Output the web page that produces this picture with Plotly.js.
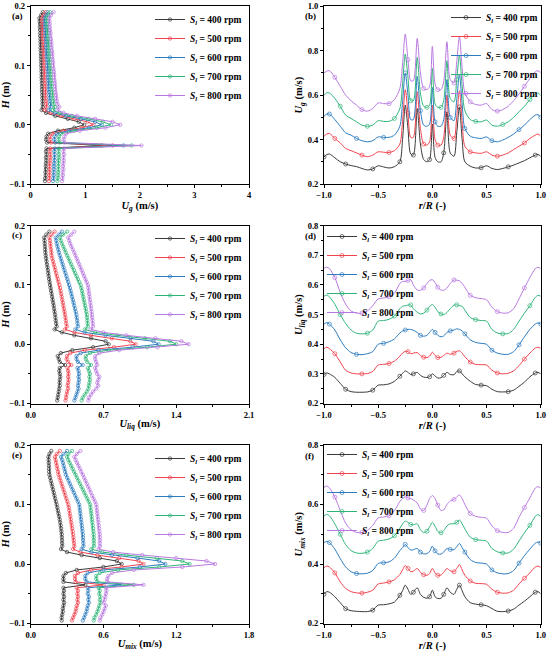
<!DOCTYPE html>
<html><head><meta charset="utf-8">
<script src="https://cdn.plot.ly/plotly-3.0.1.min.js"></script>
<style>html,body{margin:0;padding:0;background:#fff}#chart{width:550px;height:653px}</style>
</head><body><div id="chart"></div>
<script>
// ---------- shared ----------
const SPEEDS = ['400', '500', '600', '700', '800'];
const COLORS = ['#3a3a3a', '#f0434f', '#2c7bbf', '#2fb478', '#b878e0'];

// height above inlet (m), top to bottom
const H = [0.19,0.185,0.18,0.175,0.17,0.165,0.16,0.155,0.15,0.145,0.14,0.135,0.13,0.125,0.12,0.115,0.11,0.105,0.1,0.095,0.09,0.085,0.08,0.075,0.07,0.065,0.06,0.055,0.05,0.045,0.04,0.035,0.03,0.025,0.02,0.015,0.01,0.005,0,-0.005,-0.01,-0.015,-0.02,-0.025,-0.03,-0.035,-0.04,-0.045,-0.05,-0.055,-0.06,-0.065,-0.07,-0.075,-0.08,-0.085,-0.09,-0.095];

// radial position r/R
const RR = [-1,-0.975,-0.95,-0.9,-0.85,-0.8,-0.75,-0.7,-0.65,-0.6,-0.55,-0.5,-0.45,-0.4,-0.35,
 -0.3,-0.275,-0.25,-0.225,-0.2,-0.175,-0.14,-0.11,-0.08,-0.05,-0.025,0,0.025,0.05,0.08,0.105,0.135,0.165,0.2,0.225,0.25,0.275,0.3,
 0.35,0.4,0.45,0.5,0.55,0.6,0.65,0.7,0.75,0.8,0.85,0.9,0.95,0.975,1];

// ---------- (a) U_g vs H ----------
const UG_400 = [0.22,0.19,0.16,
 0.165,0.17,0.168,0.172,0.175,0.173,0.178,0.18,0.182,0.18,0.185,0.188,0.187,0.19,0.193,0.192,0.196,0.198,0.2,0.199,0.203,0.205,0.207,0.206,0.21,0.212,0.214,0.216,0.218,0.222,
 0.2,0.28,0.45,0.68,0.88,0.98,0.8,0.5,0.32,0.29,0.28,0.3,
 1.3,
 0.29,0.28,0.29,0.28,0.285,0.28,0.275,0.28,0.27,0.275,0.265,0.26];
const UG_500 = [0.27,0.24,0.21,
 0.21,0.215,0.213,0.218,0.222,0.22,0.226,0.229,0.232,0.23,0.236,0.24,0.238,0.243,0.247,0.245,0.25,0.254,0.256,0.255,0.26,0.263,0.266,0.265,0.27,0.273,0.276,0.279,0.283,0.29,
 0.26,0.36,0.55,0.8,1.04,1.15,0.94,0.6,0.4,0.36,0.35,0.37,
 1.5,
 0.36,0.35,0.36,0.355,0.36,0.35,0.345,0.35,0.34,0.345,0.34,0.335];
const UG_600 = [0.31,0.28,0.25,
 0.255,0.26,0.258,0.265,0.27,0.268,0.276,0.28,0.284,0.282,0.29,0.295,0.293,0.3,0.305,0.303,0.31,0.315,0.318,0.316,0.323,0.327,0.331,0.33,0.337,0.341,0.345,0.35,0.356,0.368,
 0.33,0.44,0.65,0.92,1.18,1.3,1.07,0.7,0.48,0.44,0.43,0.45,
 1.7,
 0.44,0.43,0.44,0.435,0.44,0.43,0.425,0.43,0.42,0.425,0.415,0.41];
const UG_700 = [0.36,0.32,0.29,
 0.295,0.3,0.298,0.306,0.312,0.31,0.318,0.323,0.328,0.326,0.334,0.34,0.338,0.346,0.352,0.35,0.358,0.364,0.368,0.366,0.374,0.379,0.384,0.383,0.391,0.397,0.403,0.41,0.42,0.445,
 0.41,0.52,0.75,1.05,1.32,1.47,1.21,0.8,0.56,0.52,0.51,0.53,
 1.85,
 0.52,0.51,0.52,0.515,0.52,0.51,0.505,0.51,0.5,0.505,0.495,0.49];
const UG_800 = [0.42,0.37,0.34,
 0.345,0.35,0.348,0.356,0.363,0.361,0.37,0.376,0.382,0.38,0.389,0.396,0.394,0.403,0.41,0.408,0.417,0.424,0.429,0.427,0.436,0.442,0.448,0.447,0.456,0.463,0.47,0.478,0.49,0.525,
 0.49,0.6,0.85,1.18,1.5,1.64,1.37,0.9,0.65,0.62,0.6,0.62,
 2.03,
 0.61,0.6,0.61,0.6,0.605,0.6,0.59,0.6,0.585,0.59,0.58,0.575];

// ---------- (c) U_liq vs H ----------
const UL_400 = [0.18,0.15,0.13,
 0.133,0.135,0.137,0.139,0.141,0.144,0.148,0.152,0.156,0.161,0.165,0.169,0.173,0.177,0.182,0.186,0.191,0.196,0.201,0.206,0.211,0.216,0.221,0.225,0.229,0.234,0.238,0.241,0.245,0.25,
 0.23,0.3,0.42,0.58,0.72,0.75,0.6,0.4,0.29,0.26,0.27,0.28,
 0.33,
 0.28,0.275,0.28,0.285,0.28,0.278,0.28,0.275,0.27,0.265,0.26,0.255];
const UL_500 = [0.23,0.2,0.18,
 0.185,0.188,0.19,0.195,0.198,0.2,0.207,0.215,0.222,0.23,0.237,0.245,0.252,0.26,0.268,0.276,0.282,0.288,0.293,0.298,0.303,0.309,0.314,0.319,0.325,0.33,0.334,0.338,0.342,0.348,
 0.33,0.42,0.58,0.78,0.96,1.01,0.8,0.52,0.38,0.35,0.345,0.36,
 0.39,
 0.355,0.36,0.365,0.36,0.365,0.36,0.355,0.36,0.35,0.345,0.34,0.335];
const UL_600 = [0.3,0.27,0.24,
 0.245,0.25,0.257,0.264,0.272,0.28,0.289,0.298,0.307,0.316,0.325,0.334,0.343,0.352,0.361,0.37,0.377,0.384,0.391,0.398,0.405,0.412,0.419,0.426,0.433,0.44,0.443,0.447,0.45,0.455,
 0.43,0.52,0.72,0.96,1.18,1.23,0.98,0.65,0.48,0.44,0.44,0.455,
 0.5,
 0.45,0.46,0.465,0.46,0.465,0.46,0.455,0.46,0.45,0.44,0.43,0.42];
const UL_700 = [0.35,0.31,0.28,
 0.29,0.3,0.313,0.325,0.337,0.35,0.363,0.376,0.389,0.402,0.415,0.428,0.441,0.454,0.467,0.48,0.487,0.493,0.499,0.505,0.511,0.517,0.523,0.529,0.535,0.54,0.542,0.545,0.547,0.55,
 0.52,0.62,0.83,1.1,1.34,1.4,1.12,0.75,0.57,0.53,0.53,0.545,
 0.58,
 0.55,0.56,0.57,0.565,0.57,0.565,0.56,0.555,0.54,0.52,0.5,0.49];
const UL_800 = [0.42,0.39,0.36,
 0.37,0.38,0.392,0.405,0.418,0.43,0.442,0.454,0.466,0.478,0.49,0.502,0.514,0.526,0.538,0.55,0.554,0.558,0.562,0.566,0.57,0.574,0.578,0.582,0.586,0.59,0.592,0.595,0.597,0.6,
 0.58,0.7,0.92,1.2,1.45,1.52,1.22,0.85,0.66,0.62,0.62,0.63,
 0.64,
 0.62,0.63,0.64,0.66,0.65,0.64,0.65,0.63,0.6,0.58,0.56,0.555];

// ---------- (e) U_mix vs H ----------
const UM_400 = [0.17,0.155,0.146,
 0.148,0.149,0.15,0.151,0.152,0.154,0.16,0.166,0.172,0.178,0.184,0.19,0.196,0.202,0.208,0.214,0.219,0.224,0.229,0.234,0.239,0.243,0.247,0.25,0.253,0.256,0.257,0.258,0.259,0.26,
 0.25,0.3,0.42,0.57,0.71,0.75,0.6,0.38,0.29,0.27,0.27,0.27,
 0.45,
 0.27,0.275,0.27,0.275,0.27,0.275,0.27,0.265,0.265,0.26,0.255,0.256];
const UM_500 = [0.24,0.215,0.2,
 0.205,0.21,0.215,0.22,0.225,0.23,0.238,0.246,0.254,0.262,0.27,0.278,0.286,0.294,0.302,0.31,0.314,0.318,0.322,0.326,0.33,0.334,0.338,0.342,0.346,0.35,0.352,0.355,0.357,0.36,
 0.35,0.41,0.55,0.73,0.89,0.93,0.75,0.5,0.39,0.365,0.365,0.37,
 0.6,
 0.38,0.39,0.385,0.39,0.385,0.39,0.38,0.375,0.37,0.36,0.35,0.34];
const UM_600 = [0.3,0.27,0.25,
 0.26,0.266,0.272,0.278,0.284,0.29,0.301,0.312,0.323,0.334,0.345,0.356,0.367,0.378,0.389,0.4,0.403,0.406,0.409,0.412,0.415,0.418,0.421,0.424,0.427,0.43,0.431,0.432,0.434,0.435,
 0.42,0.5,0.67,0.88,1.06,1.11,0.9,0.6,0.47,0.45,0.45,0.46,
 0.75,
 0.47,0.475,0.47,0.48,0.475,0.48,0.47,0.465,0.46,0.45,0.44,0.43];
const UM_700 = [0.34,0.31,0.3,
 0.31,0.322,0.334,0.346,0.358,0.37,0.382,0.394,0.406,0.418,0.43,0.442,0.454,0.466,0.478,0.49,0.493,0.496,0.499,0.502,0.505,0.508,0.511,0.514,0.517,0.52,0.52,0.521,0.52,0.522,
 0.5,0.59,0.79,1.04,1.25,1.31,1.06,0.72,0.57,0.54,0.54,0.55,
 0.85,
 0.56,0.57,0.565,0.575,0.57,0.575,0.565,0.56,0.55,0.54,0.525,0.52];
const UM_800 = [0.41,0.38,0.36,
 0.37,0.382,0.394,0.406,0.418,0.43,0.441,0.452,0.463,0.474,0.485,0.496,0.507,0.518,0.529,0.54,0.543,0.546,0.549,0.552,0.555,0.558,0.561,0.564,0.567,0.57,0.57,0.571,0.57,0.572,
 0.56,0.68,0.92,1.2,1.45,1.52,1.25,0.85,0.67,0.64,0.63,0.63,
 0.93,
 0.62,0.625,0.62,0.615,0.61,0.6,0.62,0.61,0.6,0.59,0.575,0.57];

// ---------- (b) U_g vs r/R ----------
const UGR_400 = [0.322,0.332,0.335,0.318,0.3,0.29,0.283,0.278,0.27,0.263,0.268,0.282,0.277,0.272,0.278,
 0.3,0.4,0.555,0.45,0.335,0.33,0.54,0.38,0.31,0.3,0.31,0.47,0.32,0.3,0.3,0.34,0.525,0.34,0.325,0.43,0.547,0.4,0.3,
 0.28,0.272,0.273,0.282,0.27,0.265,0.27,0.277,0.285,0.295,0.305,0.318,0.33,0.333,0.325];
const UGR_500 = [0.415,0.425,0.428,0.405,0.385,0.36,0.35,0.34,0.33,0.323,0.33,0.345,0.343,0.342,0.35,
 0.38,0.48,0.625,0.52,0.41,0.41,0.615,0.45,0.38,0.375,0.39,0.555,0.4,0.375,0.375,0.41,0.6,0.42,0.405,0.5,0.62,0.48,0.37,
 0.345,0.34,0.338,0.345,0.33,0.325,0.33,0.34,0.355,0.37,0.385,0.405,0.42,0.425,0.415];
const UGR_600 = [0.505,0.515,0.515,0.49,0.46,0.43,0.42,0.405,0.395,0.39,0.395,0.412,0.41,0.41,0.42,
 0.46,0.57,0.7,0.6,0.49,0.49,0.685,0.53,0.465,0.46,0.47,0.635,0.48,0.46,0.46,0.49,0.67,0.5,0.485,0.58,0.695,0.56,0.45,
 0.415,0.408,0.405,0.412,0.395,0.39,0.398,0.41,0.425,0.445,0.465,0.49,0.51,0.512,0.5];
const UGR_700 = [0.6,0.61,0.61,0.585,0.55,0.51,0.495,0.48,0.465,0.46,0.465,0.485,0.482,0.482,0.495,
 0.54,0.65,0.785,0.68,0.575,0.575,0.77,0.61,0.55,0.545,0.555,0.72,0.56,0.545,0.545,0.575,0.755,0.585,0.57,0.67,0.78,0.64,0.53,
 0.49,0.482,0.48,0.488,0.465,0.46,0.468,0.48,0.5,0.525,0.55,0.58,0.605,0.61,0.598];
const UGR_800 = [0.7,0.708,0.71,0.68,0.64,0.6,0.575,0.555,0.535,0.528,0.54,0.565,0.562,0.562,0.58,
 0.63,0.74,0.875,0.76,0.665,0.665,0.855,0.7,0.63,0.625,0.64,0.82,0.65,0.625,0.625,0.66,0.84,0.67,0.655,0.75,0.865,0.72,0.61,
 0.57,0.558,0.555,0.562,0.535,0.528,0.535,0.55,0.575,0.605,0.64,0.675,0.705,0.71,0.7];

// ---------- (d) U_liq vs r/R ----------
const ULR_400 = [0.298,0.303,0.3,0.288,0.268,0.248,0.24,0.238,0.238,0.239,0.245,0.262,0.263,0.266,0.275,
 0.292,0.302,0.31,0.305,0.298,0.3,0.305,0.295,0.289,0.288,0.29,0.3,0.293,0.286,0.287,0.295,0.305,0.298,0.297,0.308,0.31,0.3,0.29,
 0.275,0.264,0.262,0.26,0.248,0.24,0.239,0.24,0.245,0.258,0.272,0.29,0.303,0.305,0.3];
const ULR_500 = [0.385,0.39,0.385,0.368,0.34,0.312,0.303,0.3,0.3,0.301,0.308,0.33,0.332,0.335,0.343,
 0.36,0.37,0.376,0.375,0.368,0.37,0.372,0.362,0.356,0.355,0.36,0.373,0.362,0.355,0.356,0.362,0.37,0.366,0.37,0.376,0.378,0.37,0.358,
 0.34,0.332,0.331,0.33,0.312,0.303,0.3,0.302,0.31,0.328,0.35,0.37,0.387,0.39,0.386];
const ULR_600 = [0.468,0.473,0.468,0.448,0.415,0.388,0.372,0.366,0.365,0.368,0.375,0.4,0.403,0.408,0.418,
 0.438,0.445,0.448,0.45,0.45,0.447,0.44,0.43,0.427,0.43,0.44,0.45,0.44,0.43,0.425,0.428,0.44,0.445,0.448,0.452,0.45,0.445,0.435,
 0.415,0.406,0.403,0.4,0.38,0.37,0.366,0.366,0.375,0.398,0.425,0.45,0.468,0.472,0.468];
const ULR_700 = [0.562,0.566,0.56,0.535,0.5,0.47,0.448,0.437,0.435,0.437,0.448,0.478,0.48,0.484,0.495,
 0.52,0.528,0.53,0.532,0.533,0.52,0.508,0.502,0.505,0.515,0.528,0.534,0.525,0.51,0.502,0.5,0.507,0.52,0.532,0.533,0.53,0.528,0.515,
 0.49,0.483,0.48,0.478,0.45,0.438,0.435,0.436,0.45,0.478,0.505,0.53,0.558,0.565,0.562];
const ULR_800 = [0.656,0.66,0.655,0.625,0.575,0.535,0.512,0.505,0.505,0.512,0.53,0.553,0.556,0.56,0.572,
 0.605,0.612,0.612,0.615,0.618,0.6,0.583,0.582,0.59,0.605,0.615,0.618,0.608,0.592,0.583,0.582,0.59,0.605,0.617,0.616,0.614,0.605,0.592,
 0.565,0.557,0.554,0.55,0.525,0.51,0.505,0.506,0.52,0.553,0.59,0.625,0.655,0.66,0.655];

// ---------- (f) U_mix vs r/R ----------
const UMR_400 = [0.298,0.307,0.305,0.29,0.27,0.25,0.243,0.241,0.24,0.24,0.245,0.262,0.263,0.266,0.272,
 0.295,0.31,0.329,0.315,0.298,0.305,0.32,0.298,0.288,0.285,0.29,0.312,0.29,0.284,0.285,0.298,0.32,0.305,0.298,0.315,0.329,0.31,0.29,
 0.27,0.265,0.263,0.26,0.25,0.241,0.24,0.242,0.248,0.262,0.275,0.29,0.305,0.307,0.3];
const UMR_500 = [0.388,0.393,0.39,0.37,0.34,0.318,0.307,0.303,0.302,0.305,0.312,0.333,0.336,0.34,0.347,
 0.365,0.38,0.395,0.385,0.374,0.376,0.385,0.372,0.364,0.362,0.368,0.385,0.37,0.362,0.363,0.372,0.385,0.377,0.374,0.385,0.398,0.38,0.362,
 0.343,0.335,0.334,0.332,0.315,0.305,0.302,0.303,0.312,0.333,0.352,0.37,0.39,0.393,0.388];
const UMR_600 = [0.472,0.476,0.472,0.45,0.418,0.39,0.374,0.368,0.367,0.369,0.378,0.402,0.404,0.407,0.42,
 0.445,0.455,0.466,0.455,0.447,0.448,0.452,0.44,0.434,0.435,0.442,0.46,0.444,0.434,0.433,0.44,0.452,0.449,0.448,0.458,0.469,0.455,0.44,
 0.415,0.405,0.403,0.4,0.38,0.37,0.367,0.368,0.378,0.403,0.428,0.45,0.47,0.474,0.47];
const UMR_700 = [0.561,0.567,0.562,0.535,0.5,0.465,0.445,0.437,0.436,0.44,0.452,0.477,0.48,0.484,0.495,
 0.52,0.535,0.544,0.54,0.533,0.532,0.535,0.515,0.506,0.51,0.525,0.54,0.527,0.51,0.505,0.512,0.528,0.535,0.535,0.54,0.548,0.535,0.518,
 0.49,0.482,0.48,0.477,0.452,0.441,0.437,0.437,0.45,0.477,0.505,0.53,0.56,0.566,0.56];
const UMR_800 = [0.658,0.662,0.656,0.625,0.58,0.537,0.515,0.506,0.506,0.513,0.53,0.555,0.558,0.562,0.58,
 0.61,0.62,0.626,0.622,0.62,0.615,0.605,0.585,0.58,0.598,0.62,0.63,0.62,0.598,0.58,0.582,0.6,0.612,0.617,0.625,0.632,0.62,0.6,
 0.57,0.56,0.557,0.554,0.528,0.512,0.506,0.506,0.52,0.557,0.59,0.622,0.655,0.66,0.655];

// ---------- build ----------
const FONT = 'Liberation Serif, Times New Roman, serif';
const label = s => '<i>S</i><sub><i>l</i></sub> = ' + s + ' rpm';

const panels = [
  {id: '',  kind: 'H', series: [UG_400, UG_500, UG_600, UG_700, UG_800]},
  {id: '2', kind: 'R', series: [UGR_400, UGR_500, UGR_600, UGR_700, UGR_800]},
  {id: '3', kind: 'H', series: [UL_400, UL_500, UL_600, UL_700, UL_800]},
  {id: '4', kind: 'R', series: [ULR_400, ULR_500, ULR_600, ULR_700, ULR_800]},
  {id: '5', kind: 'H', series: [UM_400, UM_500, UM_600, UM_700, UM_800]},
  {id: '6', kind: 'R', series: [UMR_400, UMR_500, UMR_600, UMR_700, UMR_800]}
];

const data = [];
panels.forEach(p => {
  p.series.forEach((vals, i) => {
    const t = {
      type: 'scatter',
      mode: 'lines+markers',
      name: label(SPEEDS[i]),
      xaxis: 'x' + p.id,
      yaxis: 'y' + p.id,
      legend: 'legend' + p.id,
      line: {color: COLORS[i], width: 1},
      marker: {symbol: 'circle-open', color: COLORS[i], size: 3.4, line: {width: 0.7, color: COLORS[i]}},
      hoverinfo: 'skip'
    };
    if (p.kind === 'H') {
      t.x = vals; t.y = H;
    } else {
      t.x = RR; t.y = vals;
      t.line.shape = 'spline';
      t.line.smoothing = 0.8;
      t.marker.size = 4;
      t.marker.maxdisplayed = 11;
    }
    data.push(t);
  });
});

const W = 550, HT = 653;
const XL = [30.7 / W, 249 / W], XR = [324 / W, 540.7 / W];
const Y1 = [1 - 184 / HT, 1 - 6.3 / HT], Y2 = [1 - 403.5 / HT, 1 - 225.7 / HT], Y3 = [1 - 623.5 / HT, 1 - 445 / HT];

const tickfont = {family: FONT, size: 8.5, color: '#000', weight: 'bold'};
const titlefont = {family: FONT, size: 10.5, color: '#000', weight: 'bold'};

function axis(domain, anchor, range, dtick, minorD, fmt, title, standoff) {
  return {
    domain: domain, anchor: anchor, range: range, dtick: dtick, tick0: range[0],
    tickformat: fmt, showline: true, linecolor: '#000', linewidth: 1, mirror: true,
    ticks: 'outside', ticklen: 3, tickwidth: 1, tickcolor: '#000',
    showgrid: false, zeroline: false, tickfont: tickfont,
    minor: {ticks: 'outside', ticklen: 2, tickwidth: 1, tickcolor: '#000', dtick: minorD, showgrid: false},
    title: {text: title, font: titlefont, standoff: standoff},
    automargin: false, fixedrange: true
  };
}

const HT_TITLE = '<i>H</i> (m)';
const RR_TITLE = '<i>r</i>/<i>R</i> (-)';

function legendAt(xpx, ypx) {
  return {x: xpx / W, y: 1 - ypx / HT, xanchor: 'left', yanchor: 'top',
    bgcolor: 'rgba(0,0,0,0)', borderwidth: 0, tracegroupgap: 0,
    font: {family: FONT, size: 9.5, color: '#000', weight: 'bold'}};
}

const layout = {
  width: W, height: HT,
  margin: {l: 0, r: 0, t: 0, b: 0},
  paper_bgcolor: '#fff', plot_bgcolor: '#fff',
  showlegend: true,
  xaxis:  axis(XL, 'y',  [0, 4], 1, 0.5, 'd', '<i>U</i><sub><i>g</i></sub> (m/s)', 0),
  yaxis:  axis(Y1, 'x',  [-0.1, 0.2], 0.1, 0.05, '.1f', HT_TITLE, 3),
  xaxis2: axis(XR, 'y2', [-1, 1], 0.5, 0.25, '.1f', RR_TITLE, 0),
  yaxis2: axis(Y1, 'x2', [0.2, 1.0], 0.2, 0.1, '.1f', '<i>U</i><sub><i>g</i></sub> (m/s)', 2),
  xaxis3: axis(XL, 'y3', [0, 2.1], 0.7, 0.35, '.1f', '<i>U</i><sub><i>liq</i></sub> (m/s)', 0),
  yaxis3: axis(Y2, 'x3', [-0.1, 0.2], 0.1, 0.05, '.1f', HT_TITLE, 3),
  xaxis4: axis(XR, 'y4', [-1, 1], 0.5, 0.25, '.1f', RR_TITLE, 0),
  yaxis4: axis(Y2, 'x4', [0.2, 0.8], 0.1, 0.05, '.1f', '<i>U</i><sub><i>liq</i></sub> (m/s)', 2),
  xaxis5: axis(XL, 'y5', [0, 1.8], 0.6, 0.3, '.1f', '<i>U</i><sub><i>mix</i></sub> (m/s)', 0),
  yaxis5: axis(Y3, 'x5', [-0.1, 0.2], 0.1, 0.05, '.1f', HT_TITLE, 3),
  xaxis6: axis(XR, 'y6', [-1, 1], 0.5, 0.25, '.1f', RR_TITLE, 0),
  yaxis6: axis(Y3, 'x6', [0.2, 0.8], 0.2, 0.1, '.1f', '<i>U</i><sub><i>mix</i></sub> (m/s)', 2),
  legend:  legendAt(150, 5),
  legend2: legendAt(446, 3),
  legend3: legendAt(150, 224),
  legend4: legendAt(322, 222),
  legend5: legendAt(150, 444),
  legend6: legendAt(322, 440),
  annotations: [
    ['(a)', 17, 16], ['(b)', 310, 16], ['(c)', 17, 235],
    ['(d)', 310, 236], ['(e)', 17, 455], ['(f)', 309, 456]
  ].map(a => ({text: a[0], xref: 'paper', yref: 'paper', x: a[1] / W, y: 1 - a[2] / HT,
    xanchor: 'center', yanchor: 'middle', showarrow: false,
    font: {family: FONT, size: 9, color: '#000', weight: 'bold'}}))
};

Plotly.newPlot('chart', data, layout, {staticPlot: true, displayModeBar: false});
</script></body></html>
